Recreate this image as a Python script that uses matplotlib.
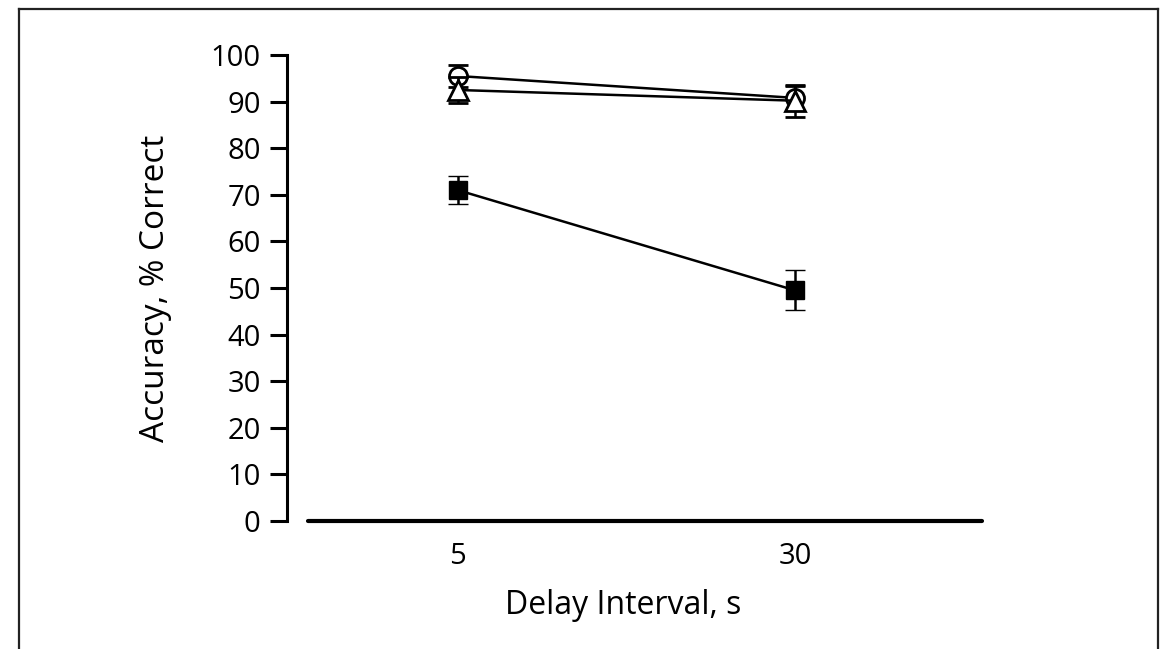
import matplotlib
matplotlib.use("Agg")
import matplotlib.pyplot as plt
from matplotlib.lines import Line2D

# Data
delays = ["5", "30"]
circle_vals = [95.5, 90.8]
circle_err = [2.3, 2.5]
triangle_vals = [92.5, 90.2]
triangle_err = [2.8, 3.4]
square_vals = [71.0, 49.5]
square_err = [3.0, 4.3]

plt.rcParams['font.family'] = ['Open Sans', 'DejaVu Sans']

fig = plt.figure(figsize=(11.73, 6.49), dpi=100)
ax = fig.add_axes([0.2447, 0.1972, 0.5925, 0.7180])

x = list(range(len(delays)))

ax.errorbar(x, circle_vals, yerr=circle_err, color='black', lw=1.8,
            marker='o', ms=13, mfc='white', mec='black', mew=2,
            capsize=7, capthick=2.2, elinewidth=1.8, clip_on=False, zorder=3)
ax.errorbar(x, triangle_vals, yerr=triangle_err, color='black', lw=1.8,
            marker='^', ms=15, mfc='white', mec='black', mew=2,
            capsize=7, capthick=2.2, elinewidth=1.8, clip_on=False, zorder=4)
ax.errorbar(x, square_vals, yerr=square_err, color='black', lw=1.8,
            marker='s', ms=13, mfc='black', mec='black', mew=1,
            capsize=7, capthick=2.2, elinewidth=1.8, clip_on=False, zorder=3)

ax.set_xlim(-0.507, 1.555)
ax.set_ylim(0, 100)

for s in ['top', 'right']:
    ax.spines[s].set_visible(False)
ax.spines['left'].set_linewidth(2.2)
ax.spines['bottom'].set_linewidth(3.0)
ax.spines['bottom'].set_bounds(-0.445, 1.555)
ax.spines['bottom'].set_capstyle('round')

ax.set_yticks(range(0, 101, 10))
ax.tick_params(axis='y', direction='out', length=12, width=2.2, pad=7,
               labelsize=21)
ax.set_xticks(x)
ax.set_xticklabels(delays)
ax.tick_params(axis='x', length=0, pad=15, labelsize=21)

ax.set_ylabel("Accuracy, % Correct", fontsize=24)
ax.yaxis.set_label_coords(-0.165, 0.5)
ax.set_xlabel("Delay Interval, s", fontsize=23)
ax.xaxis.set_label_coords(0.483, -0.145)

# Figure border (open at bottom)
W, H = 1173, 649
lx, rx, ty = 19 / W, 1158 / W, 1 - 9 / H
for xs, ys in [([lx, lx], [0, ty]), ([lx, rx], [ty, ty]), ([rx, rx], [ty, 0])]:
    fig.add_artist(Line2D(xs, ys, transform=fig.transFigure, color='#222222', lw=1.6))

fig.savefig("out.png", dpi=100)
